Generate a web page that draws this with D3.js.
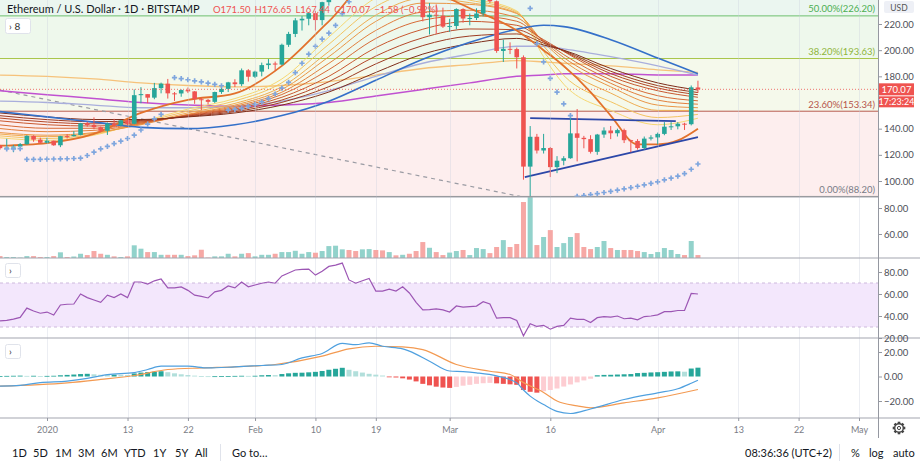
<!DOCTYPE html>
<html><head><meta charset="utf-8">
<script src="https://cdn.jsdelivr.net/npm/d3@7/dist/d3.min.js"></script>
<style>html,body{margin:0;padding:0;background:#fff;overflow:hidden}svg{display:block}text{font-family:Lato,"Open Sans",sans-serif}</style>
</head><body>
<svg id="chart" width="920" height="463"></svg>
<script>
// ================= DATA =================
const firstDayOffset = -7; // first candle = 2019-12-25 (days from 2020-01-01), daily through 2020-04-07
const open = [127.2,125.1,125.6,126.3,128.1,134.5,131.6,129.2,130.8,127.3,
134.3,134.2,135.2,144.1,142.8,141.1,138.4,143.8,142.6,146.4,
143.7,165.6,166.4,163.7,171.0,174.4,167.0,166.9,169.5,168.5,
162.5,162.0,160.5,168.0,170.4,175.4,174.0,184.6,179.7,183.6,
188.6,189.8,189.0,204.1,212.4,222.8,224.0,228.3,223.0,236.7,
265.0,268.0,284.2,264.7,258.8,267.8,282.1,258.5,256.9,265.0,
261.5,274.4,265.0,248.0,225.2,227.1,226.4,218.0,218.5,231.4,
224.2,224.6,228.0,244.0,237.4,199.4,201.0,200.8,194.6,111.0,
133.8,123.3,125.2,110.6,115.5,117.4,136.4,133.0,132.0,122.3,
135.5,138.6,136.5,138.9,131.2,130.6,125.2,132.4,133.3,136.0,
141.5,141.8,143.8,143.4,171.5];
const high = [127.6,132.3,127.6,129.0,135.0,134.9,133.1,133.0,130.9,134.5,
135.8,138.1,144.4,145.3,148.6,141.6,144.7,147.5,146.7,146.8,
170.0,171.7,166.4,175.0,175.2,178.0,168.0,170.0,171.5,168.7,
163.7,162.7,168.3,172.5,175.8,177.8,186.0,185.5,184.3,190.5,
193.2,191.3,205.0,214.0,224.5,226.0,229.0,230.0,237.0,267.0,
278.0,290.0,287.0,272.0,270.0,283.0,285.0,262.0,268.0,266.0,
275.0,277.0,266.0,250.0,236.0,235.0,232.5,224.0,232.0,232.0,
228.0,232.0,245.0,251.0,238.0,208.0,206.0,202.0,196.0,142.0,
136.0,136.0,126.0,119.0,119.0,151.5,155.0,134.5,135.0,136.0,
141.0,142.0,140.0,140.0,131.5,132.0,134.0,135.0,137.0,145.0,
145.0,145.0,144.5,173.0,176.65];
const low = [124.0,124.5,122.0,125.9,127.7,130.0,128.7,128.7,126.9,125.9,
132.5,134.0,134.9,141.5,139.5,137.3,135.2,141.0,141.7,142.8,
143.3,159.4,159.5,162.5,167.0,163.0,161.2,164.4,167.2,159.0,
154.1,158.5,159.6,166.6,168.0,171.8,172.5,176.0,178.7,180.0,
185.5,184.5,188.5,202.5,210.0,215.0,219.0,215.0,219.0,234.0,
255.0,263.0,260.0,241.0,247.0,258.0,257.0,245.0,255.0,258.0,
260.0,260.0,245.0,222.0,212.0,212.5,217.0,214.0,216.0,221.0,
219.0,223.0,226.0,236.0,198.0,191.0,197.0,186.0,101.0,88.2,
121.0,121.0,103.0,106.0,112.0,117.0,115.0,125.0,121.0,120.0,
133.0,132.0,134.0,129.0,122.0,124.0,124.0,131.0,128.0,135.0,
139.0,139.5,139.0,142.5,167.44];
const close = [125.1,125.6,126.3,128.1,134.5,131.6,129.2,130.8,127.3,134.3,
134.2,135.2,144.1,142.8,141.1,138.4,143.8,142.6,146.4,143.7,
165.6,166.4,163.7,171.0,174.4,167.0,166.9,169.5,168.5,162.5,
162.0,160.5,168.0,170.4,175.4,174.0,184.6,179.7,183.6,188.6,
189.8,189.0,204.1,212.4,222.8,224.0,228.3,223.0,236.7,265.0,
268.0,284.2,264.7,258.8,267.8,282.1,258.5,256.9,265.0,261.5,
274.4,265.0,248.0,225.2,227.1,226.4,218.0,218.5,231.4,224.2,
224.6,228.0,244.0,237.4,199.4,201.0,200.8,194.6,111.0,133.8,
123.3,125.2,110.6,115.5,117.4,136.4,133.0,132.0,122.3,135.5,
138.6,136.5,138.9,131.2,130.6,125.2,132.4,133.3,136.0,141.5,
141.8,143.8,143.4,171.6,170.07];
const volume = [43.0,42.3,42.3,41.9,43.0,43.0,42.3,42.3,43.0,45.9,
42.3,42.7,44.8,43.8,46.9,44.8,44.0,42.8,42.3,42.8,
51.3,48.7,46.1,46.1,44.0,44.0,44.0,44.0,43.0,43.6,
47.9,41.9,42.8,42.8,44.8,42.8,44.8,45.3,42.8,44.0,
44.0,44.8,46.1,46.1,47.1,44.8,46.1,45.6,46.9,50.7,
51.0,48.2,47.7,46.9,48.2,48.4,47.7,47.4,46.1,43.6,
44.0,44.8,46.9,53.8,49.4,46.1,43.8,45.7,46.9,47.7,
43.8,49.2,48.4,45.3,50.0,55.3,50.0,52.3,84.6,95.3,
51.5,57.7,63.0,50.0,53.0,57.7,60.7,50.0,48.4,50.0,
54.6,49.2,47.7,47.7,47.7,46.9,46.1,44.6,46.1,49.2,
47.7,44.6,43.8,54.6,43.8];
const rsi = [35.5,36.0,37.1,38.7,47.2,44.5,42.5,43.6,40.9,50.0,
50.7,50.9,60,56.7,54.5,52.4,58.9,56.7,60,56.7,
70.9,70.9,69.1,72.0,73.6,65.5,65.5,66.5,63.3,58.9,
57.8,56.4,61.9,63.3,67.3,65.5,70.9,66.5,68.2,69.8,
70.9,69.8,76.4,79.1,81.8,82.4,82.7,77.2,80.7,85.1,
86.2,88.1,72.8,69.8,72.0,74.2,62.7,62.7,64.4,62.7,
66.5,60.9,52.4,45.5,45.8,46.4,45.5,43.6,49.1,48,
48.5,49,53,51,38,38.5,38.5,36,22,33,
30.5,31.5,28,30.5,31.5,38,37,37,34,38.5,
39.5,39,40,37.5,38,36.5,39.5,40,41,44,
44,45,45,60.5,60];
const macdHist = [0.3,0.5,0.6,0.7,0.5,0.6,0.4,0.5,0.6,1.0,
1.3,1.6,2.0,2.2,1.8,1.4,1.2,1.5,1.4,1.2,
2.5,3.2,3.6,3.9,4.3,3.5,2.6,1.8,1.2,0.7,
0.3,0.2,0.2,0.3,0.4,0.5,0.6,0.5,0.6,1.0,
1.2,1.1,2.0,2.6,3.0,3.1,3.4,3.8,4.5,5.5,
6.3,7.1,5.5,4.3,3.2,2.2,1.5,0.8,-0.5,-0.8,
-1.5,-2.5,-4.0,-6.0,-7.2,-8.3,-9.0,-9.3,-8.5,-7.5,
-6.8,-6.0,-5.5,-5.2,-5.6,-6.0,-6.4,-6.8,-11.0,-12.5,
-13.2,-12.0,-11.0,-9.8,-8.2,-6.5,-4.8,-3.2,-1.8,1.0,
1.3,1.4,1.6,1.8,2.0,2.8,3.0,3.3,3.5,3.8,
4.1,4.2,3.9,6.5,7.2];
const sar = [null,124.5,124.5,124.8,116.5,116.6,116.6,116.7,116.8,116.9,
117.0,117.2,117.5,119.5,122,124.5,126.5,128.5,130.5,132.5,
135,139,143.5,147.5,151,null,179,178.2,177.4,176.6,
175.8,174.8,173.8,172.8,154.2,154.8,155.5,157,158.5,160.5,
163,166.5,171,175.4,182.8,190,197,203,208.5,213,
219,228,237,null,null,null,null,null,null,null,
null,null,null,null,null,null,null,null,null,null,
null,null,null,null,null,null,null,null,null,232,
205,191,178.5,168,159,150,88.2,88.8,89.6,90.4,
91.2,92.1,93.0,94.0,95.0,96.0,97.0,98.2,99.4,100.8,
102.2,103.8,105.6,109.0,113.0];
// moving averages sampled (days from 2020-01-01)
const maDays = [-7,0,7,14,21,28,35,42,49,56,63,70,74,77,84,91,97];
const sma50   = [153,149,145,141,140,143,150,161,177,193,206,216,219,218,208,194,182];
const lilacMA = [161,160,158,156,156,157,161,169,180,190,197,203,203,201,195,188,181];
const sma100  = [169,166,163,160,158,157,158,160,165,170,175,180,181,182,182,181,181];
const ema200  = [181,180,178,175,173,172,173,176,181,186,189,192,191,190,188,185,183];
const ribbon = [
[133,131,135,145,155,163,178,210,240,250,240,230,195,174,154,143,148],
[134.5,132.5,135.7,144.3,153.5,161.2,175.1,204.5,233.4,244.9,238.2,229.3,199,180.6,160.6,148.5,150.9],
[135.9,133.9,136.5,143.5,152.1,159.3,172.1,199,226.8,239.7,236.3,228.5,203.1,187.2,167.2,154,153.9],
[137,135,137,143,151,158,170,195,222,236,235,228,206,192,172,158,156],
[140.1,137.7,138.7,143.7,150.7,157,167.9,189.9,215.1,229.1,230.5,224.9,206.7,194.4,174.7,161.8,158.7],
[142.9,140.3,140.3,144.3,150.3,156,166.1,185.1,208.9,222.9,226.5,222.1,207.3,196.6,177.3,165.2,161.3],
[146,143,142,145,150,155,164,180,202,216,222,219,208,199,180,169,164],
[148.1,145.1,143.7,145.7,149.7,154,161.9,175.9,195.5,209.5,216.2,215.6,206.6,199.3,182.1,171.1,165.9],
[149.9,146.9,145.3,146.3,149.3,153,160.1,172.1,189.5,203.5,210.8,212.4,205.4,199.7,183.9,172.9,167.6],
[152,149,147,147,149,152,158,168,183,197,205,209,204,200,186,175,169.5]];
const orangeDays = [-7,0,7,14,21,28,35,42,49,56,63,70,74,77,81,84,88,91,94,97];
const orangeVals = [127,129,136,152,162,167,188,222,255,248,232,215,200,188,168,150,128,128,131,140];
const macdDays = [-7,-4,-1,3,6,9,13,15,17,21,24,28,32,35,38,41,44,46,48,50,53,54,57,60,62,64,67,70,71,72,74,76,78,81,86,91,94,96,97];
const macdVals = [-7.9,-7.3,-5,-3.8,-1.6,1.6,3.2,5.7,8.4,8.4,7,7.9,9,9.8,15.2,18.8,27,26,27.5,24.7,22.6,20.7,12.5,4.5,4,3,0.5,-5.2,-11,-16,-22.9,-28.5,-30.2,-26.5,-18.8,-13.3,-10,-5.5,-3];
const signalDays = [-7,3,8,13,18,23,28,34,41,45,49,53,56,61,66,69,71,74,76,79,81,86,91,97];
const signalVals = [-7.9,-5.2,-2.4,0.8,5.7,7,7.9,9.8,16.6,22.6,24.7,24.2,22,9.8,4.3,1.6,-5,-13,-20,-24,-25.6,-21.5,-17.4,-10.6];
// drawings
const trendDays = [-7,70.5], trendVals = [169.5,88.2];
const triUpperDays = [72,93.7], triUpperVals = [148.1,145.8];
const triLowerDays = [71.2,97], triLowerVals = [103,133.6];
const fibPrices = [88.20,153.34,193.63,226.20];
const fibLabels = ["0.00%(88.20)","23.60%(153.34)","38.20%(193.63)","50.00%(226.20)"];
const lastPrice = 170.07;
const legendTitle = "Ethereum / U.S. Dollar · 1D · BITSTAMP";
const legendValues = ["O171.50","H176.65","L167.44","C170.07","−1.58 (−0.92%)"];
const priceTicks = [100,120,140,180,200,220];
const volTicks = [60,80], rsiTicks = [20,40,60,80], macdTicks = [-20,0,20];
const timeTicks = [["2020-01-01","2020"],["2020-01-13","13"],["2020-01-22","22"],["2020-02-01","Feb"],["2020-02-10","10"],["2020-02-19","19"],["2020-03-01","Mar"],["2020-03-16","16"],["2020-04-01","Apr"],["2020-04-13","13"],["2020-04-22","22"],["2020-05-01","May"]];

// ================= CHART =================
const svg = d3.select('#chart');
const AX = 878;
const dayDate = d => new Date(Date.UTC(2020,0,1) + d*864e5);
const N = open.length;
const dates = d3.range(N).map(i => dayDate(i + firstDayOffset));
const x = d3.scaleUtc().domain([dayDate(0), dayDate(121)]).range([47, 859]);
const yP = d3.scaleLinear().domain([100,220]).range([181,24]);
const yV = d3.scaleLinear().domain([60,80]).range([234,208]);
const yR = d3.scaleLinear().domain([30,70]).range([327,283]);
const yM = d3.scaleLinear().domain([-20,20]).range([401,352]);
const UP='#26a69a', DN='#ef5350';

const defs = svg.append('defs');
function clip(id,x0,y0,w,h){defs.append('clipPath').attr('id',id).append('rect').attr('x',x0).attr('y',y0).attr('width',w).attr('height',h);}
clip('cMain',0,0,AX,197); clip('cVol',0,197,AX,61); clip('cRsi',0,258,AX,80); clip('cMacd',0,338,AX,80);

svg.append('rect').attr('width',920).attr('height',463).attr('fill','#fff');

// ---- main pane ----
const gm = svg.append('g').attr('clip-path','url(#cMain)');
const bandCols = ['#fdeeee','#f5f9eb','#eef8ec','#ebf6f0'];
const bandEdges = [fibPrices[0],fibPrices[1],fibPrices[2],fibPrices[3],400];
for(let k=0;k<4;k++){
  gm.append('rect').attr('x',0).attr('width',AX)
    .attr('y',yP(bandEdges[k+1])).attr('height',yP(bandEdges[k])-yP(bandEdges[k+1])).attr('fill',bandCols[k]);
}
// vertical grid
const gridG = svg.append('g');
timeTicks.forEach(t=>{const xx=Math.round(x(new Date(t[0]+'T00:00:00Z')))+0.5;
  gridG.append('line').attr('x1',xx).attr('x2',xx).attr('y1',0).attr('y2',418).attr('stroke','rgba(200,205,220,0.35)');});
// fib lines
const fibCols = ['#8a8a8a','#b95a4e','#a9c64c','#6dbf6d'];
const fibTxt = ['#787b86','#b5554a','#8fb53b','#4caf50'];
fibPrices.forEach((p,k)=>{gm.append('line').attr('x1',0).attr('x2',AX).attr('y1',yP(p)).attr('y2',yP(p)).attr('stroke',fibCols[k]).attr('stroke-width',1);});
// dashed trend
gm.append('path').attr('d', d3.line().x((d,i)=>x(dayDate(trendDays[i]))).y(d=>yP(d))(trendVals))
  .attr('fill','none').attr('stroke','#9a9ba3').attr('stroke-width',1.2).attr('stroke-dasharray','4,4');
function maPath(days, vals, color, w){
  gm.append('path').attr('d', d3.line().x((d,i)=>x(dayDate(days[i]))).y(d=>yP(d)).curve(d3.curveMonotoneX)(vals))
    .attr('fill','none').attr('stroke',color).attr('stroke-width',w);
}
maPath(maDays, ema200, '#f6c27a', 1.3);
maPath(maDays, sma100, '#c051d1', 1.5);
maPath(maDays, lilacMA, '#a9aedc', 1.3);
const ribCols = ['#f6d873','#f3c461','#efad52','#ea9646','#e27f3d','#d76a36','#c9582f','#b44829','#9c3b22','#7e2e1b'];
ribbon.forEach((r,k)=> maPath(maDays, r, ribCols[k], 1));
maPath(maDays, sma50, '#3470c9', 1.6);
maPath(orangeDays, orangeVals, '#e2712c', 1.8);
// triangle
[[triUpperDays,triUpperVals],[triLowerDays,triLowerVals]].forEach(([ds,vs])=>{
  gm.append('path').attr('d', d3.line().x((d,i)=>x(dayDate(ds[i]))).y(d=>yP(d))(vs))
   .attr('stroke','#2c47a8').attr('stroke-width',1.8).attr('fill','none');});
// candles
const cg = gm.append('g');
d3.range(N).forEach(i=>{
  const cx = x(dates[i]); const col = close[i]>=open[i]?UP:DN;
  cg.append('line').attr('x1',cx).attr('x2',cx).attr('y1',yP(high[i])).attr('y2',yP(low[i])).attr('stroke',col).attr('stroke-width',1);
  const y1=yP(Math.max(open[i],close[i])), y2=yP(Math.min(open[i],close[i]));
  cg.append('rect').attr('x',cx-2.3).attr('width',4.6).attr('y',y1).attr('height',Math.max(1,y2-y1)).attr('fill',col);
});
// SAR
d3.range(N).forEach(i=>{ if(sar[i]==null) return; const cx=x(dates[i]), cy=yP(sar[i]);
  gm.append('path').attr('d',`M${cx-2.6},${cy}H${cx+2.6}M${cx},${cy-2.6}V${cy+2.6}`).attr('stroke','#7fa6de').attr('stroke-width',1.7);});
// last price line
gm.append('line').attr('x1',0).attr('x2',AX).attr('y1',yP(lastPrice)).attr('y2',yP(lastPrice)).attr('stroke','#ef5350').attr('stroke-width',1).attr('stroke-dasharray','1,2').attr('opacity',0.8);
// fib labels
fibPrices.forEach((p,k)=>{gm.append('text').attr('x',875).attr('y',yP(p)-3.5).attr('text-anchor','end').attr('font-size',9.5).attr('fill',fibTxt[k]).text(fibLabels[k]);});

// ---- volume ----
const gv = svg.append('g').attr('clip-path','url(#cVol)');
d3.range(N).forEach(i=>{const cx=x(dates[i]); const up=close[i]>=open[i];
  const yt=yV(volume[i]); gv.append('rect').attr('x',cx-2.5).attr('width',5).attr('y',yt).attr('height',258-yt).attr('fill',up?'#92d2cb':'#f6a8a5');});

// ---- RSI ----
const gr = svg.append('g').attr('clip-path','url(#cRsi)');
gr.append('rect').attr('x',0).attr('width',AX).attr('y',yR(70)).attr('height',yR(30)-yR(70)).attr('fill','#f3e7fc');
[70,30].forEach(v=>gr.append('line').attr('x1',0).attr('x2',AX).attr('y1',yR(v)).attr('y2',yR(v)).attr('stroke','#cdb9dc').attr('stroke-dasharray','3,3'));
gr.append('path').attr('d', d3.line().x((d,i)=>x(dates[i])).y(d=>yR(d))(rsi)).attr('fill','none').attr('stroke','#9c56b4').attr('stroke-width',1.2);

// ---- MACD ----
const gmc = svg.append('g').attr('clip-path','url(#cMacd)');
d3.range(N).forEach(i=>{const v=macdHist[i], prev=i>0?macdHist[i-1]:0; const cx=x(dates[i]);
  let col; if(v>=0) col = v>=prev?'#26a69a':'#b2dfdb'; else col = v<=prev?'#ef5350':'#fdcdd2';
  const y0=yM(0), y1=yM(v); gmc.append('rect').attr('x',cx-2.5).attr('width',5).attr('y',Math.min(y0,y1)).attr('height',Math.max(0.8,Math.abs(y1-y0))).attr('fill',col);});
gmc.append('path').attr('d', d3.line().x((d,i)=>x(dayDate(signalDays[i]))).y(d=>yM(d)).curve(d3.curveMonotoneX)(signalVals)).attr('fill','none').attr('stroke','#f39a52').attr('stroke-width',1.2);
gmc.append('path').attr('d', d3.line().x((d,i)=>x(dayDate(macdDays[i]))).y(d=>yM(d)).curve(d3.curveMonotoneX)(macdVals)).attr('fill','none').attr('stroke','#4fa0df').attr('stroke-width',1.2);

// ---- separators ----
[258,338,418].forEach(yy=>svg.append('line').attr('x1',0).attr('x2',920).attr('y1',yy).attr('y2',yy).attr('stroke','#a3a6af').attr('stroke-width',1.2));
svg.append('line').attr('x1',0).attr('x2',AX).attr('y1',197).attr('y2',197).attr('stroke','#a3a6af').attr('stroke-width',1);
svg.append('line').attr('x1',AX+0.5).attr('x2',AX+0.5).attr('y1',0).attr('y2',438).attr('stroke','#9598a1').attr('stroke-width',1);

// ---- right axes ----
function rAxis(scale, ticks){
  const a = svg.append('g').attr('transform',`translate(${AX},0)`).call(d3.axisRight(scale).tickValues(ticks).tickFormat(d3.format('.2f')).tickSize(4).tickPadding(2));
  a.select('.domain').remove();
  a.selectAll('line').attr('stroke','#9598a1');
  a.selectAll('text').attr('font-size',9.5).attr('fill','#4d4f57').attr('font-family','Lato, sans-serif');
}
rAxis(yP, priceTicks); rAxis(yV, volTicks); rAxis(yR, rsiTicks); rAxis(yM, macdTicks);
// USD box
svg.append('rect').attr('x',884).attr('y',1).attr('width',30).attr('height',12).attr('rx',2).attr('fill','#eef0f6');
svg.append('text').attr('x',899).attr('y',10.5).attr('text-anchor','middle').attr('font-size',8.5).attr('fill','#555').text('USD');
// price boxes
svg.append('rect').attr('x',AX+1).attr('y',yP(lastPrice)-6).attr('width',35).attr('height',12).attr('fill','#ef5350');
svg.append('text').attr('x',AX+18.5).attr('y',yP(lastPrice)+3.5).attr('text-anchor','middle').attr('font-size',9.5).attr('fill','#fff').text(lastPrice.toFixed(2));
svg.append('rect').attr('x',AX+1).attr('y',yP(lastPrice)+7).attr('width',35).attr('height',11).attr('fill','#ef5350');
svg.append('text').attr('x',AX+18.5).attr('y',yP(lastPrice)+15.5).attr('text-anchor','middle').attr('font-size',9).attr('fill','#fff').text('17:23:24');

// ---- time axis ----
const ta = svg.append('g').attr('transform','translate(0,418)')
  .call(d3.axisBottom(x).tickValues(timeTicks.map(t=>new Date(t[0]+'T00:00:00Z'))).tickFormat((d,i)=>timeTicks[i][1]).tickSize(3).tickPadding(6));
ta.select('.domain').remove();
ta.selectAll('line').attr('stroke','#9598a1');
ta.selectAll('text').attr('font-size',9).attr('fill','#7a7d86').attr('font-family','Lato, sans-serif');
// gear
const gear = svg.append('g').attr('transform','translate(899,428)');
for(let k=0;k<8;k++){gear.append('rect').attr('x',-1.3).attr('y',-6.3).attr('width',2.6).attr('height',3).attr('fill','#444').attr('transform',`rotate(${k*45})`);}
gear.append('circle').attr('r',4.3).attr('fill','#fff').attr('stroke','#444').attr('stroke-width',1.4);
gear.append('circle').attr('r',1.6).attr('fill','#fff').attr('stroke','#444').attr('stroke-width',1);

// ---- header legend ----
svg.append('text').attr('x',7).attr('y',13).attr('font-size',11).attr('fill','#131722').text(legendTitle);
let lx = 213;
legendValues.forEach(t=>{
  const tn = svg.append('text').attr('x',lx).attr('y',13).attr('font-size',9.5).attr('fill','#ef5350').text(t);
  lx += tn.node().getComputedTextLength() + 4;
});
function chevBox(x0,y0,w,h,label){
  svg.append('rect').attr('x',x0+0.5).attr('y',y0+0.5).attr('width',w).attr('height',h).attr('rx',2).attr('fill','#fff').attr('stroke','#e0e3eb');
  svg.append('text').attr('x',x0+4).attr('y',y0+h-3.5).attr('font-size',10).attr('fill','#333').text('›'+(label?'  '+label:''));
}
chevBox(5,18,25,15,'8'); chevBox(5,263,15,14,''); chevBox(5,344,15,14,'');

// ---- bottom toolbar ----
const tb = [['1D',12],['5D',33],['1M',55],['3M',78],['6M',101],['YTD',124],['1Y',153],['5Y',175],['All',195],['Go to…',232],['08:36:36 (UTC+2)',745],['%',851],['log',869],['auto',893]];
tb.forEach(([t,xx])=>svg.append('text').attr('x',xx).attr('y',457).attr('font-size',11).attr('fill','#131722').text(t));
[220,839].forEach(xx=>svg.append('line').attr('x1',xx+0.5).attr('x2',xx+0.5).attr('y1',444).attr('y2',461).attr('stroke','#e0e3eb'));
</script>
</body></html>
